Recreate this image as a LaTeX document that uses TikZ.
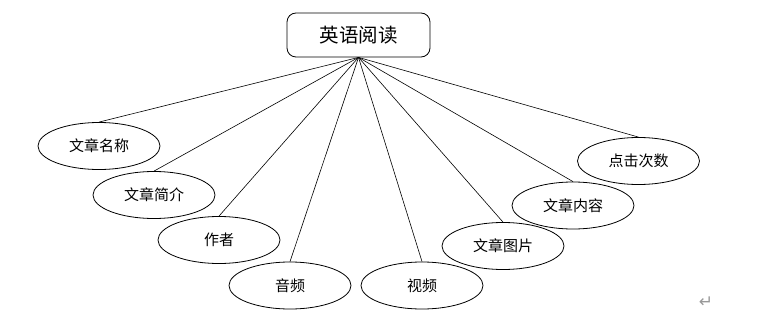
\documentclass[tikz,border=0pt]{standalone}
\usepackage{fontspec}
\newfontfamily\cjk{Noto Sans CJK SC}
\newfontfamily\dejavu{DejaVu Sans}
\usetikzlibrary{shapes.geometric}
\begin{document}
\begin{tikzpicture}[x=1pt,y=-1pt,
  attr/.style={draw,ellipse,line width=0.8pt,minimum width=122pt,minimum height=47pt,inner sep=0pt,font=\cjk\fontsize{15}{16}\selectfont},
  rootbox/.style={draw,rounded corners=9pt,line width=0.8pt,minimum width=143pt,minimum height=44pt,inner sep=0pt,font=\cjk\fontsize{19.5}{22}\selectfont},
  link/.style={line width=0.6pt}]
\useasboundingbox (0,0) rectangle (767,326);
\node[rootbox] (root) at (358.5,35) {英语阅读};
\node[attr] (a1) at (99,146) {文章名称};
\node[attr] (a2) at (154,195) {文章简介};
\node[attr] (a3) at (219,240) {作者};
\node[attr] (a4) at (290,285.5) {音频};
\node[attr] (a5) at (422,285.5) {视频};
\node[attr] (a6) at (503,246) {文章图片};
\node[attr] (a7) at (573,205.5) {文章内容};
\node[attr] (a8) at (638.5,161) {点击次数};
\foreach \n in {a1,a2,a3,a4,a5,a6,a7,a8}
  \draw[link] (root.south) -- (\n.north);
\node[text=gray!80,font=\dejavu\fontsize{17}{18}\selectfont] (mark) at (706,302) {↵};
\end{tikzpicture}
\end{document}
